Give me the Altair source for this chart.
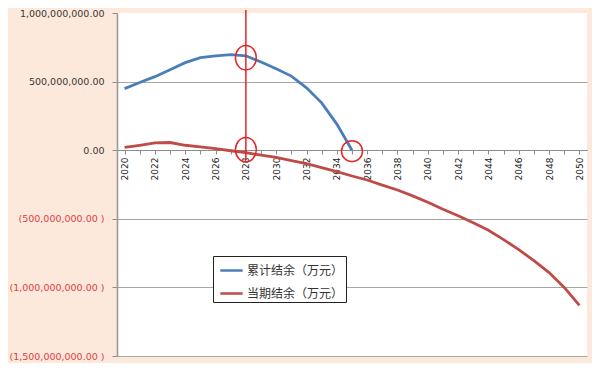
import altair as alt
import pandas as pd

years = list(range(2020, 2051))

cum_name = "累计结余（万元）"
cur_name = "当期结余（万元）"

cum_years = list(range(2020, 2036))
cum_values = [449e6, 493e6, 536e6, 587e6, 638e6, 674e6, 688e6, 696e6,
              688e6, 643e6, 594e6, 540e6, 455e6, 345e6, 190e6, 0.0]

cur_values = [20e6, 36e6, 54e6, 56e6, 36e6, 25e6, 11e6, -4e6,
              -18e6, -36e6, -53e6, -76e6, -98e6, -127e6, -156e6, -188e6,
              -217e6, -254e6, -290e6, -333e6, -380e6, -431e6, -478e6, -529e6,
              -584e6, -652e6, -725e6, -805e6, -892e6, -1000e6, -1131e6]

y_ticks = [-1.5e9, -1e9, -5e8, 0, 5e8, 1e9]

# hand-drawn annotations
mark_year = 2028
rule_top = 1.022e9
rule_bottom = -0.07e9
ellipse_years = [2028, 2028]
ellipse_values = [674e6, 4e6]
circle_years = [2035]
circle_values = [-7e6]

df = pd.concat([
    pd.DataFrame({"year": cum_years, "value": cum_values, "series": cum_name}),
    pd.DataFrame({"year": years, "value": cur_values, "series": cur_name}),
])

x_enc = alt.X("year:O", scale=alt.Scale(type="point", padding=0.5, domain=years),
              axis=alt.Axis(offset=-206, labelAngle=-90,
                            labelExpr="datum.value % 2 == 0 ? datum.label : ''",
                            tickSize=4, tickColor="#8c8c8c", domainColor="#8c8c8c",
                            domainWidth=1.2, labelFont="DejaVu Sans", labelFontSize=9,
                            labelColor="#222222", labelPadding=3, title=None, grid=False))

y_scale = alt.Scale(domain=[-1.5e9, 1e9], nice=False, zero=False)

lines = alt.Chart(df).mark_line(strokeWidth=2.8).encode(
    x=x_enc,
    y=alt.Y("value:Q", scale=y_scale,
            axis=alt.Axis(values=y_ticks,
                          labelExpr="datum.value < 0 ? '(' + format(-datum.value, ',.2f') + ' )' : format(datum.value, ',.2f')",
                          labelColor={"condition": {"test": "datum.value < 0", "value": "#e03c3c"}, "value": "#383838"},
                          gridColor={"condition": {"test": "datum.value > 900000000", "value": "#ffffff"}, "value": "#a6a6a6"},
                          labelFont="DejaVu Sans", labelFontSize=9.5, tickSize=5,
                          tickColor="#8c8c8c", domainColor="#9a9a9a", domainWidth=1.6,
                          labelPadding=8, title=None)),
    color=alt.Color("series:N",
                    scale=alt.Scale(domain=[cum_name, cur_name], range=["#4a7ebb", "#be4b48"]),
                    legend=alt.Legend(title=None, orient="none", legendX=96, legendY=243,
                                      fillColor="white", strokeColor="#222222", padding=2,
                                      symbolOffset=4,
                                      symbolType="stroke", symbolSize=500, symbolStrokeWidth=2.5,
                                      labelFont="Noto Sans CJK SC", labelFontSize=12,
                                      labelExpr="datum.label + '\u3000'",
                                      labelColor="#333333", rowPadding=4, labelOffset=3)),
)

rule_df = pd.DataFrame({"year": [mark_year], "top": [rule_top], "bottom": [rule_bottom]})
rule = alt.Chart(rule_df).mark_rule(color="#e82424", strokeWidth=1.5).encode(
    x="year:O", y=alt.Y("top:Q", scale=y_scale), y2="bottom:Q")

ell_df = pd.DataFrame({"year": ellipse_years, "value": ellipse_values})
ellipses = alt.Chart(ell_df).mark_point(
    shape="M -0.85 0 A 0.85 1 0 1 1 0.85 0 A 0.85 1 0 1 1 -0.85 0 Z",
    size=600, color="#e82424", strokeWidth=1.5, filled=False, opacity=1).encode(
    x="year:O", y=alt.Y("value:Q", scale=y_scale))

circ_df = pd.DataFrame({"year": circle_years, "value": circle_values})
circles = alt.Chart(circ_df).mark_point(
    shape="circle", size=440, color="#e82424", strokeWidth=1.5, filled=False, opacity=1).encode(
    x="year:O", y=alt.Y("value:Q", scale=y_scale))

chart = alt.layer(lines, rule, ellipses, circles).properties(
    width=470, height=343,
    padding={"left": 109, "top": 5, "right": 5, "bottom": 7},
    autosize=alt.AutoSizeParams(type="none"),
    background="#fde9dc",
).configure_view(fill="white", strokeWidth=0)

chart.save("out.html", embed_options={"renderer": "svg", "actions": False})
